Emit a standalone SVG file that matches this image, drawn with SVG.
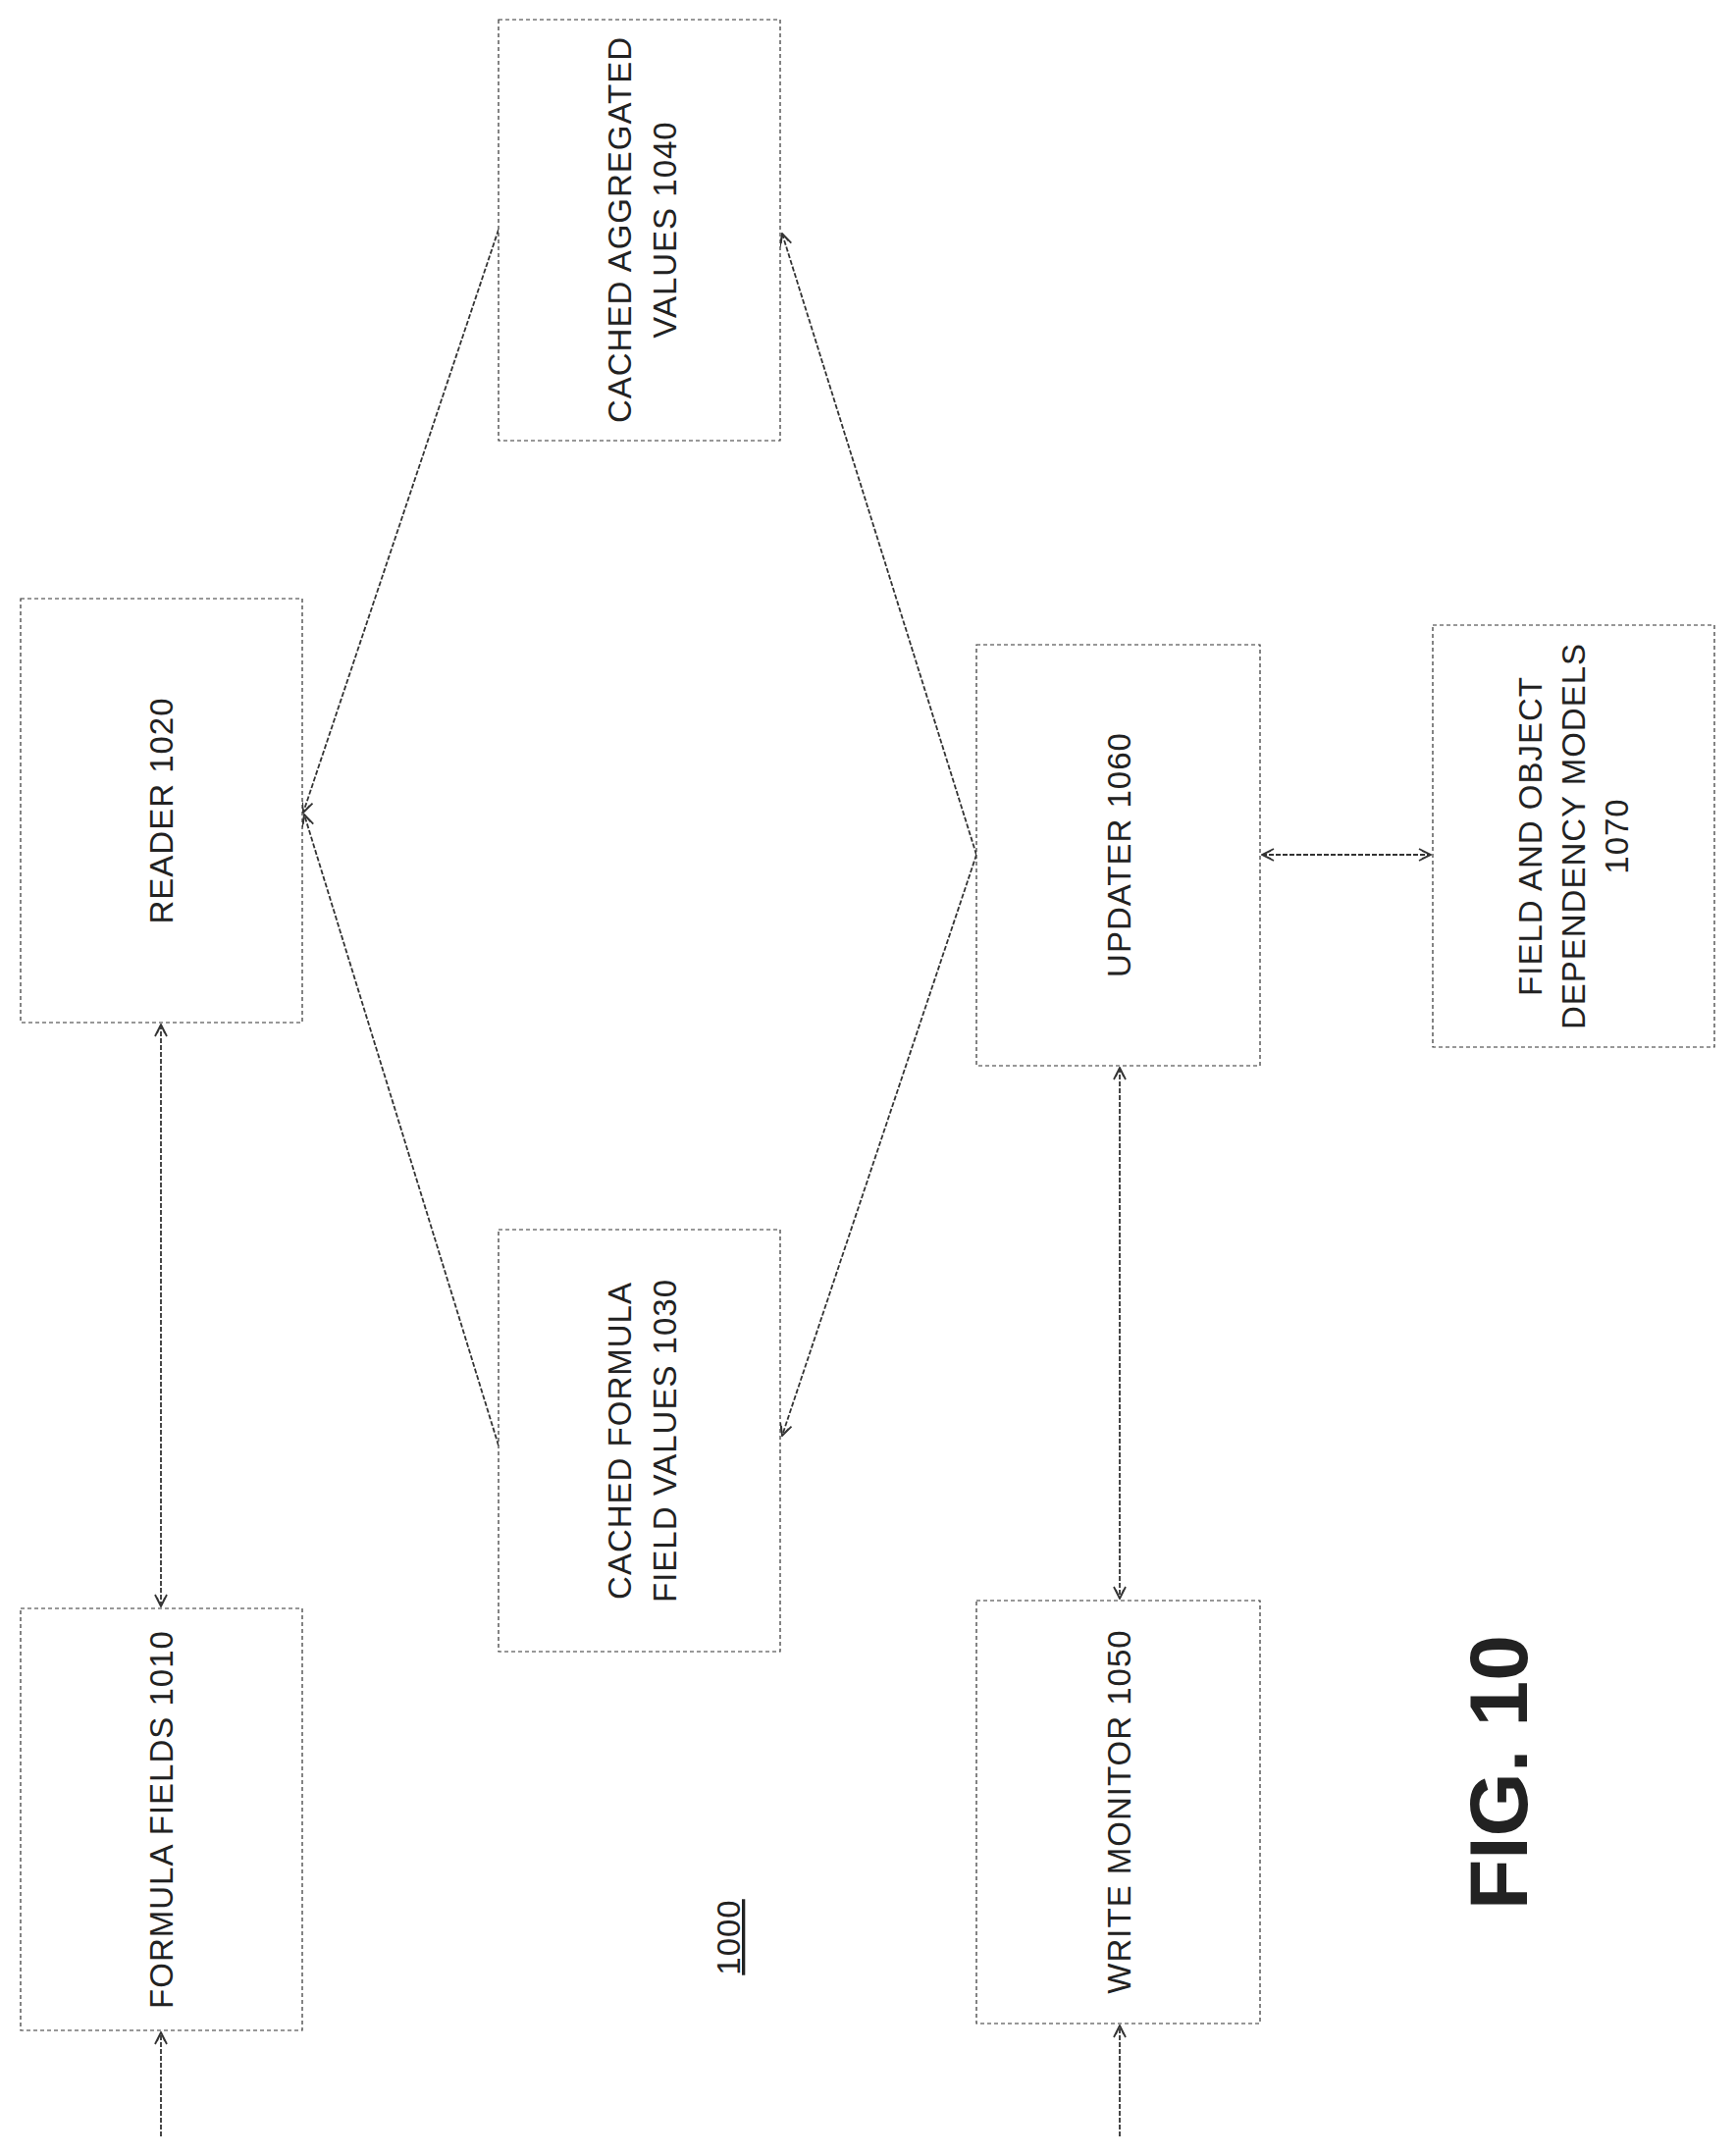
<svg xmlns="http://www.w3.org/2000/svg" width="1769" height="2197" viewBox="0 0 1769 2197">
<style>
.box{fill:#fff;stroke:#333;stroke-width:1.2;stroke-dasharray:4 3}
.t{font-family:"Liberation Sans",Arial,sans-serif;font-size:33px;fill:#222;text-anchor:middle;letter-spacing:1px}
.c{stroke:#333;stroke-width:1.8;stroke-dasharray:5 2;fill:none}
</style>
<defs>
<marker id="a" viewBox="0 0 14 14" refX="13" refY="7" markerWidth="14" markerHeight="14" markerUnits="userSpaceOnUse" orient="auto-start-reverse">
<path d="M1,1 L13,7 L1,13 M4,3 L13,7 L4,11" fill="none" stroke="#333" stroke-width="1.8"/>
</marker>
</defs>
<rect width="1769" height="2197" fill="#fff"/>
<g id="connectors">
<line class="c" x1="164" y1="1044" x2="164" y2="1637" marker-start="url(#a)" marker-end="url(#a)"/>
<line class="c" x1="1141" y1="1088" x2="1141" y2="1629" marker-start="url(#a)" marker-end="url(#a)"/>
<line class="c" x1="1286" y1="871" x2="1458" y2="871" marker-start="url(#a)" marker-end="url(#a)"/>
<line class="c" x1="164" y1="2177" x2="164" y2="2071" marker-end="url(#a)"/>
<line class="c" x1="1141" y1="2177" x2="1141" y2="2064" marker-end="url(#a)"/>
<line class="c" x1="508" y1="234" x2="309" y2="828" marker-end="url(#a)"/>
<line class="c" x1="508" y1="1473" x2="310" y2="830" marker-end="url(#a)"/>
<line class="c" x1="995" y1="871" x2="797" y2="238" marker-end="url(#a)"/>
<line class="c" x1="995" y1="871" x2="797" y2="1463" marker-end="url(#a)"/>
</g>
<g id="n1040"><rect class="box" x="508" y="20" width="287" height="429"/>
<text class="t" transform="translate(651,234) rotate(-90)"><tspan x="0" y="-8">CACHED AGGREGATED</tspan><tspan x="0" y="38">VALUES 1040</tspan></text></g>
<g id="n1020"><rect class="box" x="21" y="610" width="287" height="432"/>
<text class="t" transform="translate(164,826) rotate(-90)" y="12">READER 1020</text></g>
<g id="n1060"><rect class="box" x="995" y="657" width="289" height="429"/>
<text class="t" transform="translate(1140,871) rotate(-90)" y="12">UPDATER 1060</text></g>
<g id="n1070"><rect class="box" x="1460" y="637" width="287" height="430"/>
<text class="t" transform="translate(1603,852) rotate(-90)"><tspan x="0" y="-32">FIELD AND OBJECT</tspan><tspan x="0" y="12">DEPENDENCY MODELS</tspan><tspan x="0" y="56">1070</tspan></text></g>
<g id="n1030"><rect class="box" x="508" y="1253" width="287" height="430"/>
<text class="t" transform="translate(651,1468) rotate(-90)"><tspan x="0" y="-8">CACHED FORMULA</tspan><tspan x="0" y="38">FIELD VALUES 1030</tspan></text></g>
<g id="n1010"><rect class="box" x="21" y="1639" width="287" height="430"/>
<text class="t" transform="translate(164,1854) rotate(-90)" y="12">FORMULA FIELDS 1010</text></g>
<g id="n1050"><rect class="box" x="995" y="1631" width="289" height="431"/>
<text class="t" transform="translate(1140,1846) rotate(-90)" y="12">WRITE MONITOR 1050</text></g>
<g id="labels">
<text class="t" transform="translate(742,1974) rotate(-90)" y="12" text-decoration="underline">1000</text>
<text transform="translate(1526,1806) rotate(-90)" y="30" text-anchor="middle" font-family="Liberation Sans,Arial,sans-serif" font-weight="bold" font-size="84" fill="#222">FIG. 10</text>
</g>
</svg>
